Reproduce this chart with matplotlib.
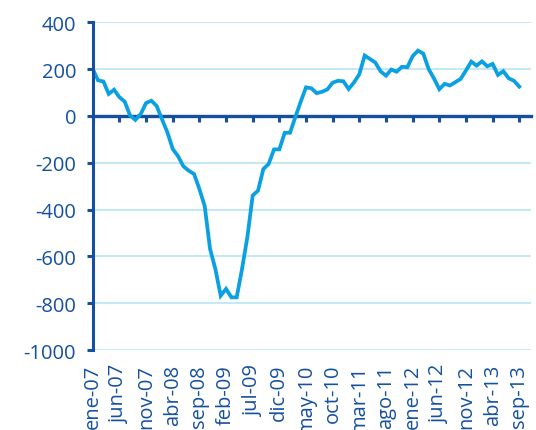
import matplotlib.pyplot as plt

# monthly values, ene-07 .. sep-13
values = [200, 152, 147, 94, 112, 80, 61, 2, -17, 8,
          55, 65, 42, -15, -70, -141, -172, -215, -234, -248,
          -312, -385, -568, -654, -768, -739, -775, -775, -654, -518,
          -340, -319, -227, -205, -143, -143, -72, -72, -5, 60,
          122, 118, 97, 103, 113, 142, 150, 148, 115, 143,
          178, 258, 243, 228, 190, 172, 198, 189, 210, 208,
          255, 279, 266, 200, 160, 114, 137, 130, 144, 158,
          194, 232, 215, 233, 212, 222, 175, 191, 161, 150,
          125]
tick_pos = list(range(0, 81, 5))
tick_labels = ['ene-07', 'jun-07', 'nov-07', 'abr-08', 'sep-08', 'feb-09',
               'jul-09', 'dic-09', 'may-10', 'oct-10', 'mar-11', 'ago-11',
               'ene-12', 'jun-12', 'nov-12', 'abr-13', 'sep-13']
y_ticks = [-1000, -800, -600, -400, -200, 0, 200, 400]

dark = '#1550A0'
line_col = '#0AA0E2'
grid_col = '#BDE6F6'

plt.rcParams['font.family'] = 'Open Sans'
plt.rcParams['axes.unicode_minus'] = False

fig = plt.figure(figsize=(5.36, 4.31), dpi=100)
ax = fig.add_axes([0.173, 0.1856, 0.8177, 0.7604])

ax.plot(range(len(values)), values, color=line_col, lw=2.7, solid_joinstyle='miter')

ax.set_xlim(0, 82.2)
ax.set_ylim(-1000, 400)
ax.set_yticks(y_ticks)
ax.yaxis.grid(True, color=grid_col, lw=1.3)
ax.set_axisbelow(True)

for s in ['top', 'right']:
    ax.spines[s].set_visible(False)
ax.spines['left'].set_color(dark)
ax.spines['left'].set_linewidth(2.2)
ax.spines['bottom'].set_position(('data', 0))
ax.spines['bottom'].set_color(dark)
ax.spines['bottom'].set_linewidth(2.4)
ax.spines['bottom'].set_zorder(1)

ax.set_xticks(tick_pos)
ax.tick_params(axis='x', labelbottom=False, direction='out', length=4, width=2.2, color=dark)
ax.tick_params(axis='y', direction='out', length=4, width=2.2, color=dark,
               labelcolor=dark, labelsize=14.5, pad=8)

# labels sit at the bottom of the plot, not on the zero line
sec = ax.secondary_xaxis(0)
sec.set_xticks(tick_pos, tick_labels, rotation=90)
sec.spines['bottom'].set_visible(False)
sec.tick_params(length=0, pad=10, labelcolor=dark, labelsize=14.5)

fig.savefig('out.png', dpi=100)
